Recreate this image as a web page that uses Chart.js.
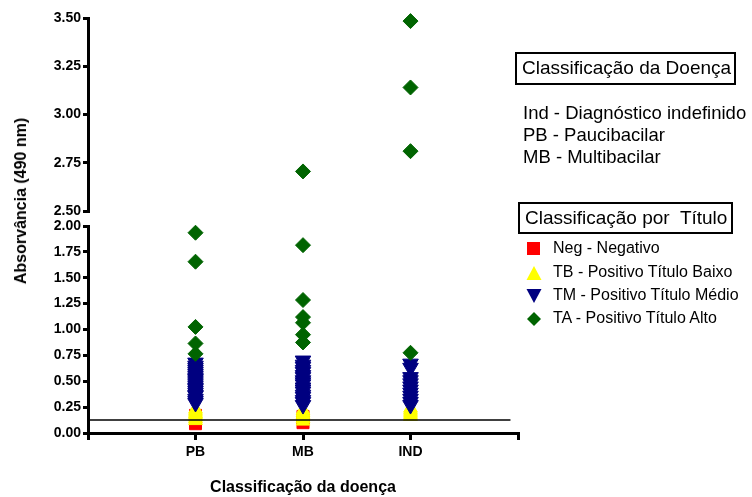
<!DOCTYPE html>
<html><head><meta charset="utf-8">
<script src="https://cdn.jsdelivr.net/npm/chart.js@4/dist/chart.umd.min.js"></script>
<style>
body{margin:0;background:#fff;width:752px;height:497px;overflow:hidden;position:relative;font-family:"Liberation Sans",Arial,sans-serif;color:#000}
canvas{position:absolute;left:0;top:0}
.ytitle{position:absolute;left:21px;top:201px;transform:translate(-50%,-50%) rotate(-90deg);white-space:nowrap;font-weight:bold;font-size:16px}
.box{position:absolute;border:2px solid #000;box-sizing:border-box;white-space:pre;font-size:19px;line-height:28px;padding-left:5px}
.txt{position:absolute;white-space:pre;font-size:18.5px;line-height:22px}
.item{position:absolute;left:526px;white-space:pre;font-size:16px;line-height:20px;height:20px}
.item svg{position:absolute;left:0;top:3px}
.item span{position:absolute;left:27px;top:0}
</style>
</head><body>
<canvas id="cTop" width="752" height="497"></canvas>
<canvas id="cBot" width="752" height="497"></canvas>
<div class="ytitle">Absorvância (490 nm)</div>
<div class="box" style="left:515px;top:52px;width:221px;height:33px">Classificação da Doença</div>
<div class="txt" style="left:523px;top:102px">Ind - Diagnóstico indefinido</div>
<div class="txt" style="left:523px;top:124px">PB - Paucibacilar</div>
<div class="txt" style="left:523px;top:146px">MB - Multibacilar</div>
<div class="box" style="left:518px;top:202px;width:215px;height:32px">Classificação por  Título</div>
<div class="item" style="top:238px"><svg width="16" height="16"><rect x="1" y="1" width="13" height="13" fill="#ff0000"/></svg><span>Neg - Negativo</span></div>
<div class="item" style="top:262px"><svg width="16" height="16"><polygon points="8,1 15.5,15 0.5,15" fill="#ffff00"/></svg><span>TB - Positivo Título Baixo</span></div>
<div class="item" style="top:285px"><svg width="16" height="16"><polygon points="0.5,1 15.5,1 8,15" fill="#000080"/></svg><span>TM - Positivo Título Médio</span></div>
<div class="item" style="top:308px"><svg width="16" height="16"><polygon points="8,1 15,8 8,15 1,8" fill="#006400"/></svg><span>TA - Positivo Título Alto</span></div>
<script>
// ---- data ----
const categories = ['PB', 'MB', 'IND'];
const negValues = [
  [0.09, 0.12, 0.15, 0.17],
  [0.10, 0.13, 0.16],
  []
];
const tbValues = [
  [0.12, 0.14, 0.16, 0.18, 0.19, 0.21, 0.23],
  [0.115, 0.14, 0.16, 0.18, 0.20, 0.22],
  [0.16, 0.18, 0.20, 0.22, 0.24]
];
const tmValues = [
  [0.29, 0.31, 0.33, 0.36, 0.37, 0.39, 0.41, 0.43, 0.44, 0.46, 0.48, 0.50, 0.52, 0.53, 0.55, 0.57, 0.59, 0.61, 0.63, 0.65, 0.68],
  [0.27, 0.30, 0.32, 0.35, 0.37, 0.40, 0.42, 0.44, 0.47, 0.49, 0.51, 0.54, 0.56, 0.59, 0.61, 0.64, 0.66, 0.70],
  [0.27, 0.30, 0.33, 0.36, 0.39, 0.42, 0.45, 0.48, 0.51, 0.54, 0.63, 0.67]
];
const taValues = [
  [1.935, 1.655, 1.025, 0.865, 0.765],
  [2.705, 1.815, 1.285, 1.12, 1.065, 0.95, 0.875],
  [3.484, 3.14, 2.81, 0.775]
];
const cutoff = 0.126;
const cutoffEnd = 3.93;
const lowerRange = [0, 2.0];
const upperRange = [2.5, 3.5];
const yStep = 0.25;
const xTitle = 'Classificação da doença';

// ---- helpers ----
function pts(groups, lo, hi) {
  const out = [];
  groups.forEach((vals, i) => vals.forEach(v => { if (v >= lo && v <= hi) out.push({x: i + 1, y: v}); }));
  return out;
}
function datasets(lo, hi, withLine) {
  const ds = [];
  if (withLine) ds.push({type:'line', data:[{x:0,y:cutoff},{x:cutoffEnd,y:cutoff}], borderColor:'#000', borderWidth:1.5, pointRadius:0, order:0});
  ds.push({data:pts(taValues,lo,hi), pointStyle:'rectRot', radius:7.5, backgroundColor:'#006400', borderColor:'#006400', borderWidth:1, order:1, clip:false});
  ds.push({data:pts(tmValues,lo,hi), pointStyle:'triangle', rotation:180, radius:9, backgroundColor:'#000080', borderColor:'#000080', borderWidth:1, order:2, clip:false});
  ds.push({data:pts(tbValues,lo,hi), pointStyle:'triangle', radius:8, backgroundColor:'#ffff00', borderColor:'#ffff00', borderWidth:1, order:3, clip:false});
  ds.push({data:pts(negValues,lo,hi), pointStyle:'rect', radius:8.5, backgroundColor:'#ff0000', borderColor:'#ff0000', borderWidth:1, order:4, clip:false});
  return ds;
}
const tickFont = {family:'"Liberation Sans", Arial, sans-serif', size:14, weight:'bold'};
const titleFont = {family:'"Liberation Sans", Arial, sans-serif', size:16, weight:'bold'};
function yScale(range) {
  return {
    type:'linear', min:range[0], max:range[1],
    afterFit: s => { s.width = 88; },
    ticks:{stepSize:yStep, callback:v => Number(v).toFixed(2), font:tickFont, color:'#000', padding:2},
    grid:{drawOnChartArea:false, drawTicks:true, tickLength:5, color:'#000', lineWidth:3},
    border:{display:true, color:'#000', width:3}
  };
}
function xScale(show) {
  return {
    type:'linear', min:0, max:4, display:show,
    afterFit: s => { s.height = show ? 64 : 0; },
    ticks:{stepSize:1, autoSkip:false, callback:v => categories[v-1] || '', font:tickFont, color:'#000', padding:4},
    grid:{drawOnChartArea:false, drawTicks:true, tickLength:7, color:'#000', lineWidth:3},
    border:{display:true, color:'#000', width:3},
    title:{display:true, text:xTitle, font:titleFont, color:'#000', padding:{top:14, bottom:0}}
  };
}
const common = {
  responsive:false, animation:false, events:[],
  plugins:{legend:{display:false}, tooltip:{enabled:false}}
};
new Chart(document.getElementById('cTop'), {
  type:'scatter',
  data:{datasets:datasets(upperRange[0], upperRange[1], false)},
  options:Object.assign({}, common, {
    layout:{padding:{left:0, right:234, top:18, bottom:286}},
    scales:{x:xScale(false), y:yScale(upperRange)}
  })
});
new Chart(document.getElementById('cBot'), {
  type:'scatter',
  data:{datasets:datasets(lowerRange[0], lowerRange[1], true)},
  options:Object.assign({}, common, {
    layout:{padding:{left:0, right:234, top:226, bottom:0}},
    scales:{x:xScale(true), y:yScale(lowerRange)}
  })
});
</script>
</body></html>
